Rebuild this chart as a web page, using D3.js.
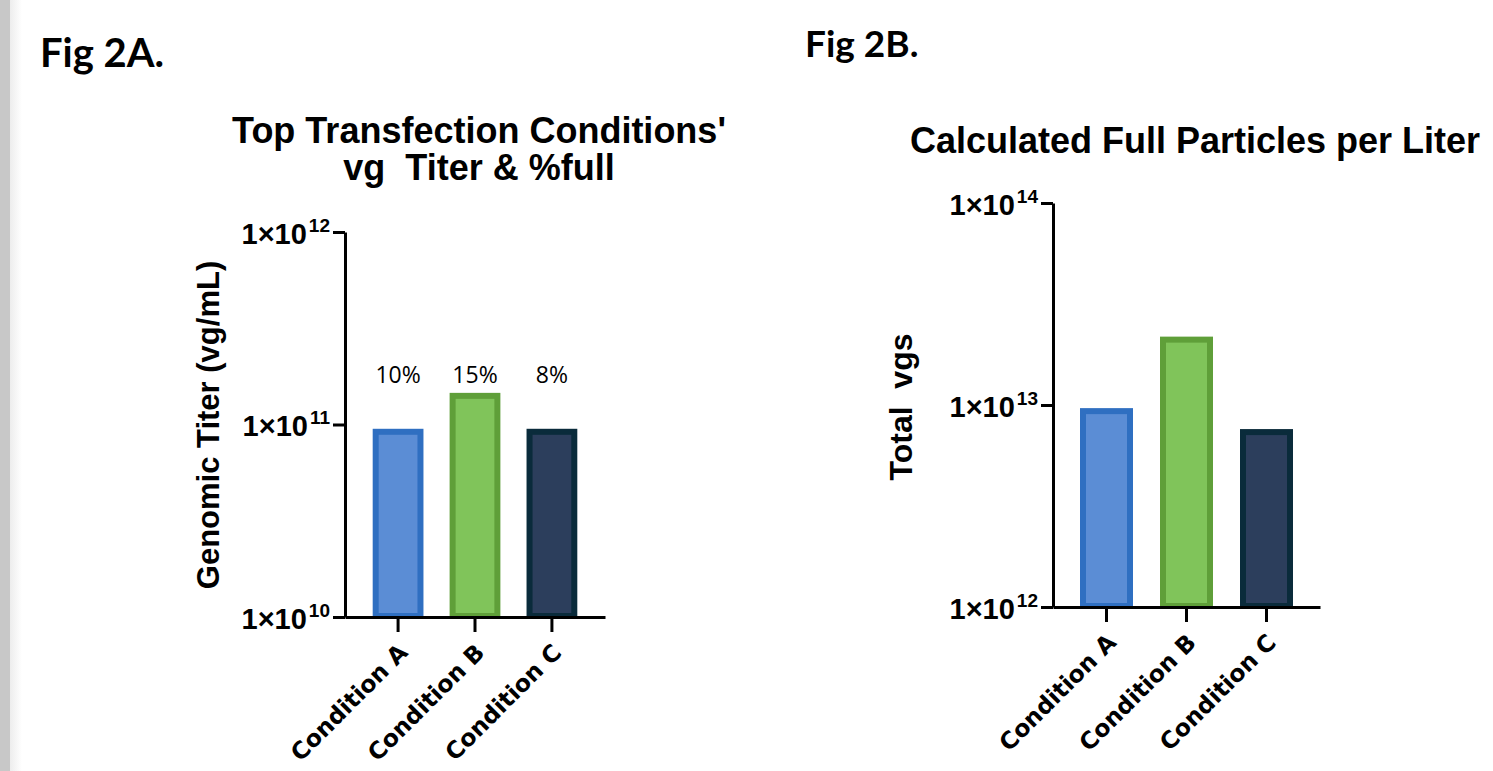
<!DOCTYPE html>
<html><head><meta charset="utf-8">
<script src="https://cdn.jsdelivr.net/npm/d3@7"></script>
<style>body{margin:0;background:#fff}svg{display:block}</style>
</head><body>
<svg id="c" width="1493" height="771"></svg>
<script>
const categories = ["Condition A", "Condition B", "Condition C"];
const titerValues = [9.5e10, 1.46e11, 9.5e10];
const fullPercentLabels = ["10%", "15%", "8%"];
const totalVgValues = [9.65e12, 2.18e13, 7.6e12];
const tickExpA = [10, 11, 12];
const tickExpB = [12, 13, 14];
const fills = ["#5b8dd5", "#80c45a", "#2c3e5c"];
const strokes = ["#2f6fc1", "#5f9f39", "#0a2b3b"];

const svg = d3.select("#c");

const defs = svg.append("defs");
const g0 = defs.append("linearGradient").attr("id","fade").attr("x1","0").attr("x2","1");
g0.append("stop").attr("offset","0").attr("stop-color","#ededed");
g0.append("stop").attr("offset","1").attr("stop-color","#ffffff");
svg.append("rect").attr("x",0).attr("y",0).attr("width",10).attr("height",771).attr("fill","#c8c8c8");
svg.append("rect").attr("x",10).attr("y",0).attr("width",12).attr("height",771).attr("fill","url(#fade)");

const figFont = "Lato, 'DejaVu Sans', sans-serif";
const arial = "'Liberation Sans', Arial, sans-serif";
const catFont = "'DejaVu Sans', sans-serif";

svg.append("text").attr("x",40).attr("y",67).attr("font-family",figFont).attr("font-weight",700)
  .attr("font-size",40).text("Fig 2A.");
svg.append("text").attr("x",805).attr("y",57).attr("font-family",figFont).attr("font-weight",700)
  .attr("font-size",37).text("Fig 2B.");

function panel(opts){
  const {x0,x1,yTop,yBase,dom,values,tickExp,titleLines,titleX,titleY,titleGap,ylabel,ylabelX,ylabelY,pi,po} = opts;
  const x = d3.scaleBand().domain(categories).range([x0,x1]).paddingInner(pi).paddingOuter(po);
  const y = d3.scaleLog().domain(dom).range([yBase,yTop]);
  const g = svg.append("g");

  g.selectAll("rect.bar").data(values).join("rect").attr("class","bar")
    .attr("x",(d,i)=>x(categories[i])+3)
    .attr("width",x.bandwidth()-6)
    .attr("y",d=>y(d)+3)
    .attr("height",d=>yBase-y(d)-4)
    .attr("fill",(d,i)=>fills[i]).attr("stroke",(d,i)=>strokes[i]).attr("stroke-width",6);

  const yAxis = d3.axisLeft(y).tickValues(tickExp.map(e=>Math.pow(10,e))).tickSize(12).tickSizeOuter(0).tickFormat("");
  const ya = g.append("g").attr("transform",`translate(${x0},0)`).call(yAxis);
  ya.select(".domain").attr("stroke","#000").attr("stroke-width",3);
  ya.selectAll(".tick line").attr("stroke","#000").attr("stroke-width",3);
  ya.selectAll(".tick").each(function(v,i){
    const t = d3.select(this).append("text").attr("x",-15).attr("y",11)
      .attr("text-anchor","end").attr("font-family",arial).attr("font-weight",700)
      .attr("font-size",29).attr("fill","#000");
    t.append("tspan").text("1×10");
    t.append("tspan").attr("dy",-12).attr("dx",2).attr("font-size",19).text(tickExp[i]);
  });

  const xAxis = d3.axisBottom(x).tickSize(15).tickSizeOuter(0).tickFormat("");
  const xa = g.append("g").attr("transform",`translate(0,${yBase})`).call(xAxis);
  xa.select(".domain").attr("stroke","#000").attr("stroke-width",3);
  xa.selectAll(".tick line").attr("stroke","#000").attr("stroke-width",3);
  xa.selectAll(".tick").append("text")
    .attr("transform","translate(11,37) rotate(-45)")
    .attr("text-anchor","end").attr("font-family",catFont).attr("font-weight",700)
    .attr("font-size",23.5).attr("fill","#000").text(d=>d);

  titleLines.forEach((t,i)=>{
    svg.append("text").attr("x",titleX).attr("y",titleY+i*titleGap).attr("text-anchor","middle")
      .attr("font-family",arial).attr("font-weight",700).attr("font-size",opts.titleSize).attr("fill","#000")
      .style("white-space","pre").text(t);
  });
  svg.append("text").attr("transform",`translate(${ylabelX},${ylabelY}) rotate(-90)`)
    .attr("text-anchor","middle").attr("font-family",arial).attr("font-weight",700)
    .attr("font-size",opts.ylabelSize).attr("fill","#000").style("white-space","pre").text(ylabel);
  return {x,y,g};
}

const A = panel({x0:345,x1:605,yTop:232,yBase:617,dom:[1e10,1e12],values:titerValues,tickExp:tickExpA,
  titleLines:["Top Transfection Conditions'","vg  Titer & %full"],titleX:479,titleY:143,titleGap:37,titleSize:36,
  ylabel:"Genomic Titer (vg/mL)",ylabelX:219,ylabelY:425,ylabelSize:31,pi:0.34,po:0.36});

const labY = A.y(d3.max(titerValues)) - 10;
A.g.selectAll("text.pct").data(fullPercentLabels).join("text").attr("class","pct")
  .attr("x",(d,i)=>A.x(categories[i])+A.x.bandwidth()/2).attr("y",labY)
  .attr("text-anchor","middle").attr("font-family","'Open Sans', sans-serif").attr("font-size",23)
  .attr("fill","#000").text(d=>d);

panel({x0:1053,x1:1320,yTop:203,yBase:607,dom:[1e12,1e14],values:totalVgValues,tickExp:tickExpB,
  titleLines:["Calculated Full Particles per Liter"],titleX:1195,titleY:153,titleGap:0,titleSize:36,
  ylabel:"Total  vgs",ylabelX:912,ylabelY:407,ylabelSize:32,pi:0.3375,po:0.3375});
</script>
</body></html>
